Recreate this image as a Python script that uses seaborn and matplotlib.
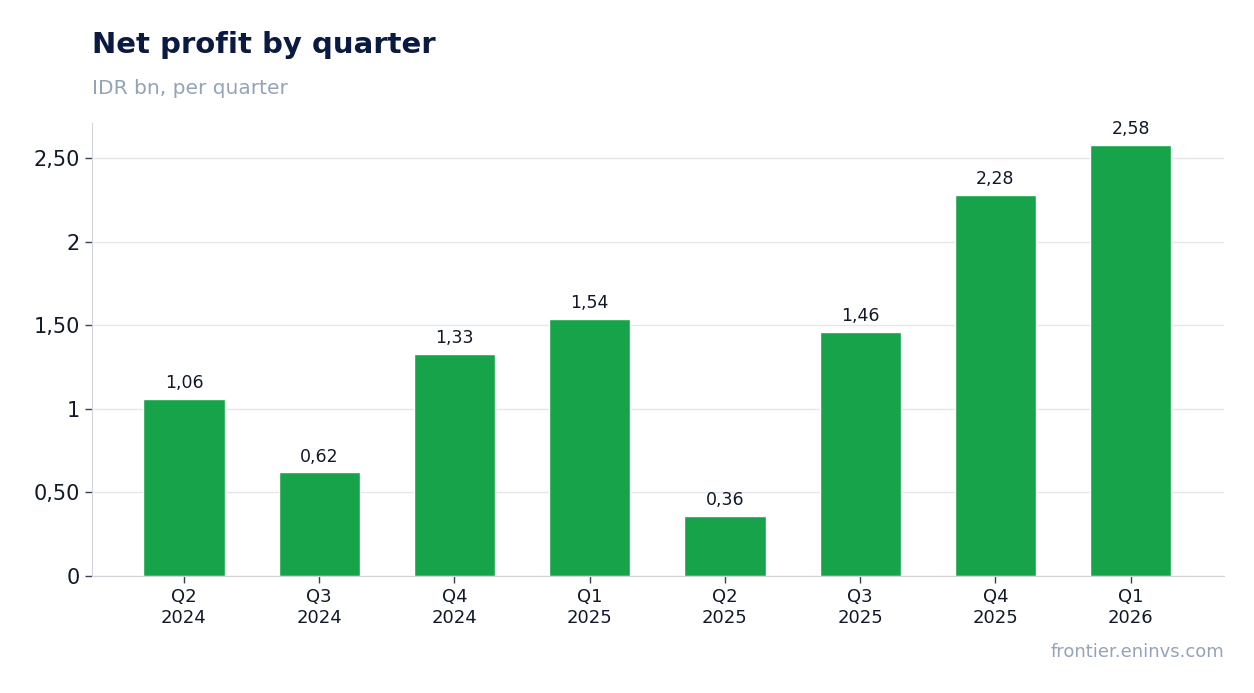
import matplotlib
matplotlib.use("Agg")
import matplotlib.pyplot as plt
import seaborn as sns
import pandas as pd

quarters = ["Q2\n2024", "Q3\n2024", "Q4\n2024", "Q1\n2025", "Q2\n2025", "Q3\n2025", "Q4\n2025", "Q1\n2026"]
profit = [1.06, 0.62, 1.33, 1.54, 0.36, 1.46, 2.28, 2.58]
ytick_vals = [0, 0.5, 1, 1.5, 2, 2.5]
ytick_labels = ["0", "0,50", "1", "1,50", "2", "2,50"]

sns.set_style("white")
plt.rcParams['font.family'] = ['DejaVu Sans']

df = pd.DataFrame({"q": quarters, "v": profit})
fig = plt.figure(figsize=(12.54, 6.93), dpi=100)
ax = fig.add_axes([92/1254, 1-576/693, (1224-92)/1254, (576-123)/693])
sns.barplot(data=df, x="q", y="v", color="#17a34a", saturation=1, width=0.6, ax=ax)
ax.set_ylim(0, 2.71)
ax.set_xlim(-0.68, 7.69)
ax.set_yticks(ytick_vals)
ax.set_yticklabels(ytick_labels, fontsize=15, color="#111827")
ax.tick_params(axis="x", bottom=True, labelsize=13, colors="#374151", labelcolor="#111827", length=5, width=1)
ax.tick_params(axis="y", left=True, length=5, width=1, colors="#374151", labelcolor="#111827")
ax.set_xlabel("")
ax.set_ylabel("")
ax.grid(axis="y", color="#e5e7eb", linewidth=1)
ax.set_axisbelow(True)
for s in ["top", "right"]:
    ax.spines[s].set_visible(False)
for s in ["left", "bottom"]:
    ax.spines[s].set_color("#d1d5db")
for i, v in enumerate(profit):
    ax.text(i, v + 0.04, f"{v:.2f}".replace(".", ","), ha="center", va="bottom", fontsize=12.5, color="#111827")
fig.text(92/1254, 1-45/693, "Net profit by quarter", fontsize=21, fontweight="bold", color="#0b1a40", va="center")
fig.text(92/1254, 1-88/693, "IDR bn, per quarter", fontsize=14.5, color="#94a3b8", va="center")
fig.text(1224/1254, 1-652/693, "frontier.eninvs.com", fontsize=13, color="#94a3b8", ha="right", va="center")
fig.savefig("out.png", dpi=100)
